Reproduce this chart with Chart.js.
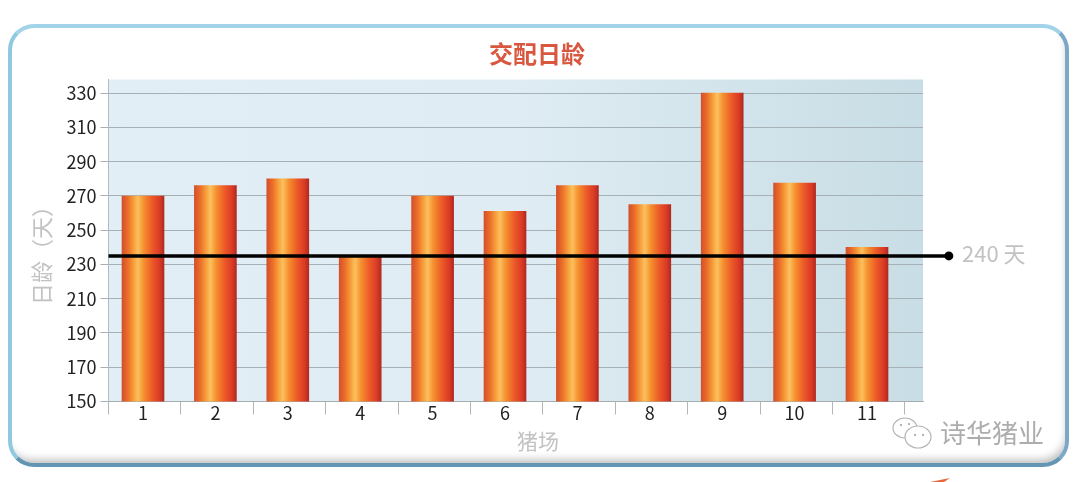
<!DOCTYPE html>
<html lang="zh-CN">
<head>
<meta charset="UTF-8">
<title>交配日龄</title>
<script src="https://cdn.jsdelivr.net/npm/chart.js"></script>
<style>
  html, body { margin: 0; background: #fff; overflow: hidden; }
  #wrap { position: relative; width: 1080px; height: 482px; }
  #panel {
    position: absolute; left: 8px; top: 24px; width: 1053px; height: 435px;
    border: 4px solid; border-radius: 26px; background: #fff;
    border-color: #a2d3e9 #7aa8c6 #6496b4 #90c8e2;
    box-shadow: inset -3px -8px 8px -5px #bbb;
  }
  #sliver {
    position: absolute; left: 930px; top: 478px; width: 20px; height: 4px;
    background: #e8663a; clip-path: polygon(0 100%, 100% 0, 70% 100%);
  }
  canvas { position: absolute; left: 0; top: 0; }
</style>
</head>
<body>
<div id="wrap">
  <div id="panel"></div>
  <div id="sliver"></div>
  <canvas id="chart" width="1080" height="482"></canvas>
</div>
<script>
  const farms = [1, 2, 3, 4, 5, 6, 7, 8, 9, 10, 11];
  const matingAge = [270, 276, 280, 235, 270, 261, 276, 265, 330, 277.5, 240];
  const yTicks = [150, 170, 190, 210, 230, 250, 270, 290, 310, 330];
  const targetLine = 235;
  const targetLabel = '240 天';

  // x axis is linear so the plot can run past the last farm, like the original
  const xStart = 0.5235, xEnd = 11.7735, lineEnd = 12.13;
  const xEdges = farms.concat(12).map(f => f - 1 + xStart);

  function barGradient(ctx) {
    const c = ctx.chart;
    const x = c.scales.x ? c.scales.x.getPixelForValue(farms[ctx.dataIndex]) : NaN;
    if (!Number.isFinite(x)) return '#ea5a28'; // dataset level or before layout
    const g = c.ctx.createLinearGradient(x - 21, 0, x + 21, 0);
    g.addColorStop(0, '#d2502c');
    g.addColorStop(0.14, '#ec6e28');
    g.addColorStop(0.28, '#f6a03c');
    g.addColorStop(0.38, '#fdc05e');
    g.addColorStop(0.52, '#f5902e');
    g.addColorStop(0.72, '#ec5a28');
    g.addColorStop(0.9, '#d93a25');
    g.addColorStop(1, '#b02a20');
    return g;
  }

  const plotBackground = {
    id: 'plotBackground',
    beforeDraw(chart) {
      const { ctx, chartArea: a } = chart;
      const g = ctx.createLinearGradient(a.left, 0, a.right, 0);
      g.addColorStop(0, '#e2eef6');
      g.addColorStop(0.5, '#dfecf3');
      g.addColorStop(1, '#c8dde5');
      ctx.save();
      ctx.fillStyle = g;
      ctx.fillRect(a.left, a.top, a.right - a.left, a.bottom - a.top);
      ctx.restore();
    }
  };

  // the end dot sits outside the chart area, the point element skips itself there
  const lineEndDot = {
    id: 'lineEndDot',
    afterDatasetsDraw(chart) {
      chart.getDatasetMeta(1).data[1].draw(chart.ctx);
    }
  };

  const cjk = '"Noto Sans CJK SC", "Noto Sans", sans-serif';

  const labels = {
    id: 'labels',
    afterDraw(chart) {
      const ctx = chart.ctx;
      ctx.save();
      ctx.textAlign = 'center';
      ctx.textBaseline = 'middle';

      ctx.fillStyle = '#d9573f';
      ctx.font = 'bold 24px ' + cjk;
      ctx.fillText('交配日龄', 537, 54);

      ctx.fillStyle = '#c2c2c2';
      ctx.font = '21px ' + cjk;
      ctx.fillText('猪场', 538, 441);
      ctx.font = '22px ' + cjk;
      ctx.textAlign = 'left';
      ctx.fillText(targetLabel, 962, 254);
      ctx.textAlign = 'center';

      ctx.save();
      ctx.translate(42, 250);
      ctx.rotate(-Math.PI / 2);
      ctx.font = '22px ' + cjk;
      ctx.fillText('日龄（天）', 0, 0);
      ctx.restore();

      // watermark
      ctx.fillStyle = '#adadad';
      ctx.font = '26px ' + cjk;
      ctx.textAlign = 'left';
      ctx.fillText('诗华猪业', 940, 433);
      ctx.strokeStyle = '#b4b4b4';
      ctx.lineWidth = 1.2;
      ctx.beginPath();
      ctx.ellipse(905, 428, 12, 10, 0, 0, Math.PI * 2);
      ctx.stroke();
      ctx.fillStyle = '#fff';
      ctx.beginPath();
      ctx.ellipse(918, 437, 13, 11, 0, 0, Math.PI * 2);
      ctx.fill();
      ctx.stroke();
      ctx.fillStyle = '#b4b4b4';
      [[900, 424], [908, 423], [914, 434], [922, 434]].forEach(p => ctx.fillRect(p[0], p[1], 2, 2));
      ctx.restore();
    }
  };

  new Chart(document.getElementById('chart'), {
    data: {
      datasets: [
        {
          type: 'bar',
          data: farms.map((f, i) => ({ x: f, y: matingAge[i] })),
          backgroundColor: barGradient,
          barThickness: 42,
          order: 2
        },
        {
          type: 'line',
          data: [{ x: xStart, y: targetLine }, { x: lineEnd, y: targetLine }],
          borderColor: '#000',
          borderWidth: 3.5,
          pointRadius: [0, 4.5],
          pointBackgroundColor: '#000',
          pointBorderWidth: 0,
          clip: false,
          order: 1
        }
      ]
    },
    options: {
      responsive: false,
      animation: false,
      layout: { padding: { top: 79.5, right: 157, left: 0, bottom: 0 } },
      plugins: { legend: { display: false }, tooltip: { enabled: false } },
      scales: {
        x: {
          type: 'linear',
          offset: false,
          min: xStart,
          max: xEnd,
          afterBuildTicks: s => { s.ticks = xEdges.concat(farms).sort((a, b) => a - b).map(v => ({ value: v })); },
          afterFit: s => { s.height = 80.5; },
          border: { color: '#a5adaf', width: 1 },
          grid: {
            offset: false,
            drawOnChartArea: false,
            tickLength: 13,
            tickColor: c => c.tick && Number.isInteger(c.tick.value) ? 'rgba(0,0,0,0)' : '#b0b7b9'
          },
          ticks: {
            autoSkip: false,
            maxRotation: 0,
            padding: -12,
            color: '#222',
            font: { family: cjk, size: 18 },
            callback: v => Number.isInteger(v) ? String(v) : ''
          }
        },
        y: {
          min: 150,
          max: 338,
          afterBuildTicks: s => { s.ticks = yTicks.map(v => ({ value: v })); },
          afterFit: s => { s.width = 108.5; },
          border: { color: '#b4bcbe', width: 1 },
          grid: { color: '#a6b1b6', lineWidth: 1, tickLength: 8 },
          ticks: {
            padding: 4,
            color: '#222',
            font: { family: cjk, size: 18 }
          }
        }
      }
    },
    plugins: [plotBackground, lineEndDot, labels]
  });
</script>
</body>
</html>
